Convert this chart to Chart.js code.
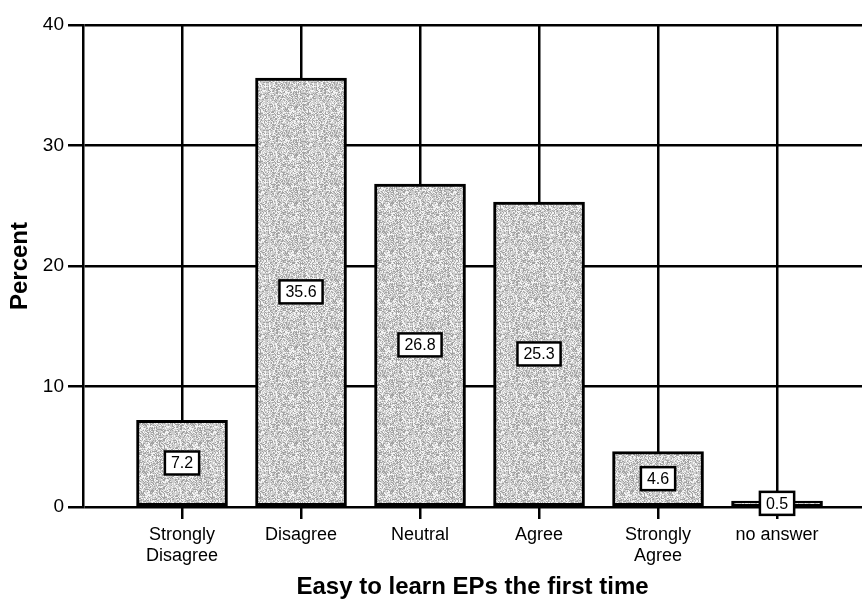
<!DOCTYPE html>
<html>
<head>
<meta charset="utf-8">
<script src="https://cdn.jsdelivr.net/npm/chart.js@4/dist/chart.umd.min.js"></script>
<style>
  html, body { margin: 0; padding: 0; background: #fff; }
  canvas { display: block; }
</style>
</head>
<body>
<canvas id="chart" width="862" height="604"></canvas>
<script>
const categories = [
  ['Strongly', 'Disagree'],
  'Disagree',
  'Neutral',
  'Agree',
  ['Strongly', 'Agree'],
  'no answer'
];
const percents = [7.2, 35.6, 26.8, 25.3, 4.6, 0.5];
const yTicks = [0, 10, 20, 30, 40];

const FONT = '"Liberation Sans", Arial, Helvetica, sans-serif';

// stippled grey like the scanned original (deterministic hash, not data)
function stipple() {
  const c = document.createElement('canvas');
  c.width = 48; c.height = 48;
  const g = c.getContext('2d');
  g.fillStyle = '#f5f5f5';
  g.fillRect(0, 0, 48, 48);
  for (let y = 0; y < 48; y++) {
    for (let x = 0; x < 48; x++) {
      const h = ((x * 374761393 + y * 668265263) ^ (x * y * 2246822519)) >>> 0;
      const v = (h ^ (h >>> 13)) * 1274126177 >>> 0;
      if ((v & 255) < 50) {
        g.fillStyle = (v & 256) ? '#a2a2a2' : '#cdcdcd';
        g.fillRect(x, y, 1, 1);
      }
    }
  }
  return g.createPattern(c, 'repeat');
}

const boxedLabels = {
  id: 'boxedLabels',
  afterDatasetsDraw(chart) {
    const ctx = chart.ctx;
    const meta = chart.getDatasetMeta(0);
    ctx.save();
    ctx.font = '16px ' + FONT;
    ctx.textAlign = 'center';
    ctx.textBaseline = 'middle';
    meta.data.forEach((bar, i) => {
      const txt = percents[i].toFixed(1);
      const cy = (bar.y + bar.base) / 2;
      const w = ctx.measureText(txt).width + 12;
      const h = 23;
      ctx.fillStyle = '#fff';
      ctx.fillRect(bar.x - w / 2, cy - h / 2, w, h);
      ctx.lineWidth = 2.5;
      ctx.strokeStyle = '#000';
      ctx.strokeRect(bar.x - w / 2, cy - h / 2, w, h);
      ctx.fillStyle = '#000';
      ctx.fillText(txt, bar.x, cy + 1);
    });
    ctx.restore();
  }
};

new Chart(document.getElementById('chart'), {
  type: 'bar',
  data: {
    datasets: [{
      data: percents.map((v, i) => ({ x: i, y: v })),
      backgroundColor: stipple(),
      borderColor: '#000',
      borderWidth: 3,
      borderSkipped: false,
      barThickness: 91
    }]
  },
  plugins: [boxedLabels],
  options: {
    responsive: false,
    animation: false,
    devicePixelRatio: 1,
    layout: { padding: { top: 25, right: 0, left: 0, bottom: 0 } },
    plugins: {
      legend: { display: false },
      tooltip: { enabled: false }
    },
    scales: {
      x: {
        type: 'linear',
        offset: false,
        min: -0.832,
        max: 5.714,
        afterBuildTicks: s => { s.ticks = categories.map((_, i) => ({ value: i })); },
        afterFit: s => { s.height = 97; },
        ticks: {
          autoSkip: false,
          maxRotation: 0,
          padding: 6,
          color: '#000',
          font: { family: FONT, size: 18, lineHeight: 1.15 },
          callback: v => categories[v]
        },
        grid: { offset: false, color: '#000', lineWidth: 2.5, tickLength: 12 },
        border: { display: false },
        title: {
          display: true,
          text: 'Easy to learn EPs the first time',
          color: '#000',
          font: { family: FONT, size: 24, weight: 'bold' },
          padding: { top: 0, bottom: 2 }
        }
      },
      y: {
        min: 0,
        max: 40,
        afterBuildTicks: s => { s.ticks = yTicks.map(v => ({ value: v })); },
        afterFit: s => { s.width = 83; },
        ticks: {
          padding: 4,
          color: '#000',
          font: { family: FONT, size: 19 }
        },
        grid: { color: '#000', lineWidth: 2.5, tickLength: 15 },
        border: { display: true, color: '#000', width: 2.5 },
        title: {
          display: true,
          text: 'Percent',
          color: '#000',
          font: { family: FONT, size: 24, weight: 'bold' },
          padding: { top: 6, bottom: 0 }
        }
      }
    }
  }
});
</script>
</body>
</html>
